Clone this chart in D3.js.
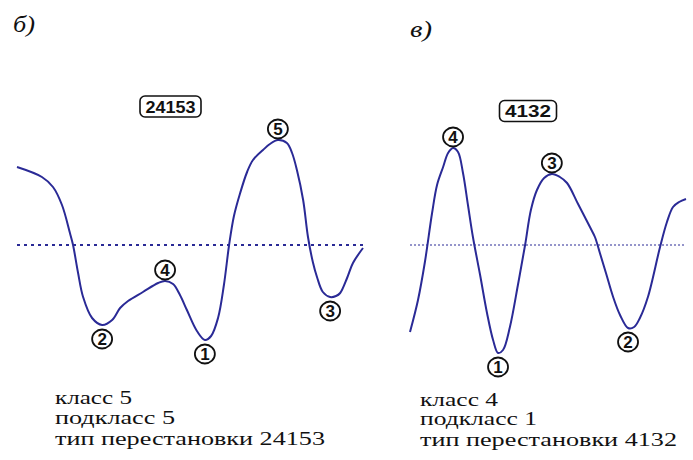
<!DOCTYPE html>
<html>
<head>
<meta charset="utf-8">
<script src="https://cdn.jsdelivr.net/npm/d3@7"></script>
<style>
  body { margin: 0; background: #fff; }
</style>
</head>
<body>
<svg id="chart" width="693" height="460"></svg>
<script>
// panel б) : position along the record (0..100) and deviation from the mean line
const curveBT = [0, 7.2, 10.4, 13, 15.3, 16.2, 17.6, 19.1, 21.7, 24.6, 27.5, 29.8, 32.1, 36.4, 40.8, 42.8, 45.1, 47.1, 49.1, 52, 54.3, 56.1, 58.1, 59.8, 61.3, 62.7, 64.5, 66.5, 68.2, 71.1, 73.1, 75.4, 78, 79.5, 80.9, 82.7, 84.1, 85.5, 86.7, 88.4, 90.5, 92.2, 93.4, 95.4, 97.1, 100];
const curveBV = [78, 68, 58, 40, 12, 0, -27, -52, -73, -80, -75, -63, -56, -47, -38, -36, -39, -50, -65, -86, -95, -91, -73, -40, 0, 29, 52, 73, 85, 95, 101, 105, 102, 92, 75, 45, 8, -17, -32, -47, -52, -51, -48, -33, -18, -3];

// panel в)
const curveVT = [0, 2.9, 5.4, 8, 9.8, 12, 13.8, 15.6, 17.4, 19.2, 21, 22.8, 25.4, 27.9, 30.1, 31.9, 33.7, 36.2, 39.1, 41.7, 43.8, 46, 48.6, 51.4, 54.3, 56.9, 60.9, 65.2, 67, 68.8, 71, 73.6, 76.1, 79, 81.2, 83.3, 86.2, 90.6, 93.1, 95.3, 97.5, 100];
const curveVV = [-87, -55, -17, 32, 60, 78, 92, 97, 93, 72, 40, 8, -30, -68, -95, -108, -105, -82, -40, 0, 35, 55, 67, 71, 68, 62, 41, 18, 8, -8, -28, -52, -70, -83, -82, -73, -52, -2, 23, 38, 43, 46];

// numbered extrema (order number, position of the extremum)
const labelsBNum = ["2", "4", "1", "5", "3"];
const labelsBT = [24.6, 42.8, 54.3, 75.4, 90.5];
const labelsVNum = ["4", "1", "3", "2"];
const labelsVT = [15.6, 31.9, 51.4, 79];

const codeB = "24153";
const codeV = "4132";
const letterB = "б)";
const letterV = "в)";
const infoB = ["класс 5", "подкласс 5", "тип перестановки 24153"];
const infoV = ["класс 4", "подкласс 1", "тип перестановки 4132"];

const SERIF = "'Liberation Serif', 'Times New Roman', serif";
const SANS = "'Liberation Sans', Arial, sans-serif";

const svg = d3.select("#chart");
const lineColor = "#2a2a96";

const y = d3.scaleLinear().domain([-100, 100]).range([345, 145]);

function drawPanel(cfg) {
  const x = d3.scaleLinear().domain([0, 100]).range(cfg.xRange);
  const g = svg.append("g");
  const pts = cfg.t.map((t, i) => [t, cfg.v[i]]);

  // mean line
  g.append("line")
    .attr("x1", x(0)).attr("x2", x(100))
    .attr("y1", y(0)).attr("y2", y(0))
    .attr("stroke", lineColor)
    .attr("stroke-width", cfg.dashWidth)
    .attr("stroke-dasharray", cfg.dash);

  const line = d3.line()
    .x(d => x(d[0]))
    .y(d => y(d[1]))
    .curve(d3.curveCatmullRom.alpha(0.5));

  g.append("path")
    .datum(pts)
    .attr("d", line)
    .attr("fill", "none")
    .attr("stroke", lineColor)
    .attr("stroke-width", 2);

  // circled order numbers
  cfg.labelT.forEach((t, k) => {
    const i = cfg.t.indexOf(t);
    const v = cfg.v[i];
    const isMax = v > cfg.v[Math.max(i - 1, 0)];
    const cx = x(t);
    const cy = y(v) + (isMax ? -11 : 14);
    g.append("ellipse")
      .attr("cx", cx).attr("cy", cy)
      .attr("rx", 10).attr("ry", 9.5)
      .attr("fill", "#fff")
      .attr("stroke", "#111")
      .attr("stroke-width", 1.8);
    g.append("text")
      .attr("x", cx).attr("y", cy + 6)
      .attr("text-anchor", "middle")
      .style("font-family", SANS)
      .style("font-size", "17px")
      .style("font-weight", "bold")
      .attr("fill", "#111")
      .text(cfg.labelNum[k]);
  });

  // boxed permutation code
  g.append("rect")
    .attr("x", cfg.box[0] - cfg.box[2] / 2).attr("y", cfg.box[1] - 10.5)
    .attr("width", cfg.box[2]).attr("height", 21)
    .attr("rx", 5)
    .attr("fill", "#fff")
    .attr("stroke", "#111")
    .attr("stroke-width", 1.6);
  g.append("text")
    .attr("x", cfg.box[0]).attr("y", cfg.box[1] + 6)
    .attr("text-anchor", "middle")
    .style("font-family", SANS)
    .style("font-size", "17px")
    .style("font-weight", "bold")
    .attr("textLength", cfg.box[2] - 11)
    .attr("lengthAdjust", "spacingAndGlyphs")
    .attr("fill", "#111")
    .text(cfg.code);

  // panel letter
  g.append("text")
    .attr("x", cfg.letter[0]).attr("y", cfg.letter[1])
    .style("font-family", SERIF)
    .style("font-style", "italic")
    .style("font-size", "23px")
    .attr("textLength", 22)
    .attr("lengthAdjust", "spacingAndGlyphs")
    .attr("fill", "#111")
    .text(cfg.letterText);

  // description
  cfg.info.forEach((s, k) => {
    g.append("text")
      .attr("x", cfg.infoX)
      .attr("y", cfg.infoY[k])
      .style("font-family", SERIF)
      .style("font-size", "19px")
      .attr("textLength", cfg.infoW[k])
      .attr("lengthAdjust", "spacingAndGlyphs")
      .attr("fill", "#111")
      .text(s);
  });
}

drawPanel({
  t: curveBT, v: curveBV, xRange: [17, 363],
  dash: "3,4", dashWidth: 2,
  labelT: labelsBT, labelNum: labelsBNum,
  code: codeB, box: [170.5, 106.5, 61],
  letterText: letterB, letter: [13, 32],
  info: infoB, infoX: 55, infoY: [404, 424, 445], infoW: [77, 120, 270]
});

drawPanel({
  t: curveVT, v: curveVV, xRange: [410, 686],
  dash: "2,2", dashWidth: 1,
  labelT: labelsVT, labelNum: labelsVNum,
  code: codeV, box: [528, 111, 57],
  letterText: letterV, letter: [410, 37],
  info: infoV, infoX: 420, infoY: [406, 425, 446], infoW: [78, 117, 257]
});
</script>
</body>
</html>
